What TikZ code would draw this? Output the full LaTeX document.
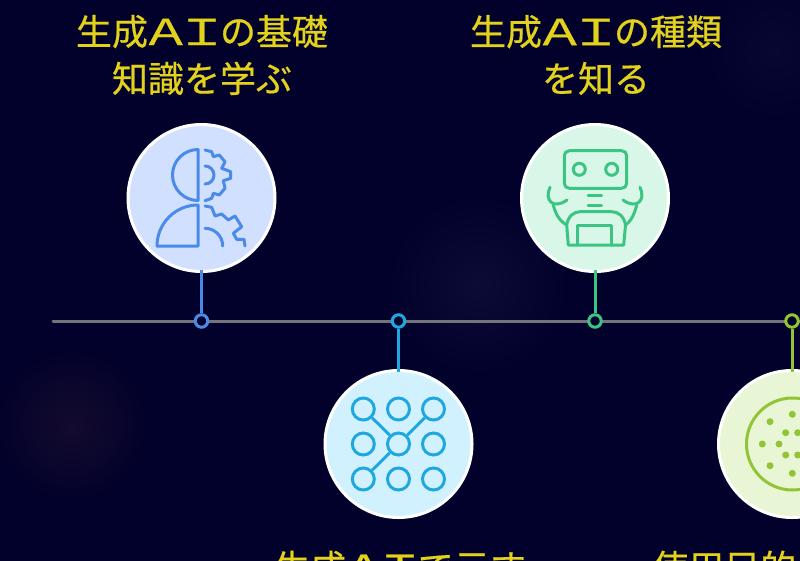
\documentclass[tikz,border=0pt]{standalone}
\usepackage{fontspec}
\setmainfont{Noto Sans CJK JP}[FakeBold=0.5]
\newcommand{\aiWord}{\makebox[1em]{\scalebox{1.4}[1]{Ａ}}\makebox[1em]{\scalebox{1.5}[1]{Ｉ}}}
\definecolor{nightBg}{HTML}{02012B}
\definecolor{glowRed}{HTML}{140B2E}
\definecolor{glowBlue}{HTML}{0B0B36}
\definecolor{labelGold}{HTML}{E3D21C}
\definecolor{lineGrey}{HTML}{74747E}
\definecolor{stepBlue}{HTML}{4A8AE8}
\definecolor{fillBlue}{HTML}{D2E0FF}
\definecolor{stepCyan}{HTML}{1FA8DF}
\definecolor{fillCyan}{HTML}{D2F1FF}
\definecolor{stepGreen}{HTML}{3CC483}
\definecolor{fillGreen}{HTML}{D8F7E8}
\definecolor{stepLime}{HTML}{92C436}
\definecolor{fillLime}{HTML}{E8F6D6}
\tikzstyle{bigCircle}=[draw=white,circle,line width=3pt,minimum size=147pt,inner sep=0pt]
\tikzstyle{dotNode}=[draw,circle,fill=nightBg,line width=3pt,minimum size=12.5pt,inner sep=0pt]
\tikzstyle{stemLine}=[line width=3pt,shorten <=-3pt]
\tikzstyle{iconLine}=[line width=3pt,line cap=round,line join=round]
\tikzstyle{stepLabel}=[text=labelGold,font=\fontsize{36pt}{47pt}\selectfont,align=center,inner sep=0pt]
\tikzstyle{ringNode}=[draw=stepCyan,circle,line width=3pt,minimum size=22pt,inner sep=0pt]
\tikzstyle{ringLink}=[draw=stepCyan,line width=3pt]
\tikzstyle{glowSpot}=[shading=radial,outer color=nightBg]
\begin{document}
\begin{tikzpicture}[x=1pt,y=-1pt]
		\useasboundingbox (0,0) rectangle (800,560);
		\clip (0,0) rectangle (800,560);
		\fill[nightBg] (-2,-2) rectangle (802,562);
		\shade[glowSpot,inner color=glowRed] (72,425) circle (75);
		\shade[glowSpot,inner color=glowBlue] (478,285) circle (90);
		\shade[glowSpot,inner color=glowBlue!60!nightBg] (775,50) circle (70);

		\coordinate (lineStart) at (53,321);
		\coordinate (lineEnd) at (802,321);
		\draw[lineGrey,line width=3pt,line cap=round] (lineStart) -- (lineEnd);

		\node[bigCircle,fill=fillBlue] (basics) at (201.5,198) {};
		\node[bigCircle,fill=fillCyan] (neural) at (398.5,444) {};
		\node[bigCircle,fill=fillGreen] (robot) at (595,198) {};
		\node[bigCircle,fill=fillLime] (usage) at (792,444) {};

		\node[dotNode,draw=stepBlue] (dot1) at (201.5,321) {};
		\node[dotNode,draw=stepCyan] (dot2) at (398.5,321) {};
		\node[dotNode,draw=stepGreen] (dot3) at (595,321) {};
		\node[dotNode,draw=stepLime] (dot4) at (792,321) {};

		\draw[stemLine,stepBlue] (basics) -- (dot1);
		\draw[stemLine,stepCyan] (neural) -- (dot2);
		\draw[stemLine,stepGreen] (robot) -- (dot3);
		\draw[stemLine,stepLime] (usage) -- (dot4);

		\node[stepLabel] (label1) at (202,55) {生成\aiWord の基礎\\知識を学ぶ};
		\node[stepLabel] (label3) at (596,55) {生成\aiWord の種類\\を知る};
		\node[stepLabel,anchor=base] (label2) at (400,581) {生成\aiWord で示す};
		\node[stepLabel,anchor=base west] (label4) at (652,581) {使用目的};

		% half head and gear
		\begin{scope}[iconLine,stepBlue]
		\draw (198,200.5) -- (198,149.5) arc (-90:-270:25.5) -- cycle;
		\draw (198,205.5) -- (198,246) -- (157,246) arc (180:270:41) -- cycle;
		\draw (205,150) -- (211.7,151.7) -- (213.3,156.7) -- (219.3,155) -- (225,161.7) -- (221.7,168.3) -- (230.7,171.7) -- (230.7,178.3) -- (223.3,180.7) -- (225,188.3) -- (219.3,195) -- (213.3,193.3) -- (211.7,198.3) -- (205,200.7);
		\draw (205,166) arc (-90:90:9);
		\draw (205,206) -- (211.7,207.3) -- (215,216) -- (221.7,214) -- (228.3,220) -- (235,216) -- (241.7,226.7) -- (233.3,233.3) -- (236.7,239.3) -- (244,239.3) -- (245,246);
		\draw (205,228.3) arc (-90:0:17.7);
		\end{scope}

		% grid of rings
		\foreach \i/\px/\py in {1/363.3/409,2/398.5/409,3/433.5/409,4/363.3/444,5/398.5/444,6/433.5/444,7/363.3/479,8/398.5/479,9/433.5/479}
		\node[ringNode] (ring\i) at (\px,\py) {};
		\draw[ringLink] (ring1) -- (ring5);
		\draw[ringLink] (ring3) -- (ring5);
		\draw[ringLink] (ring7) -- (ring5);

		% robot
		\begin{scope}[iconLine,stepGreen]
		\draw[rounded corners=5pt] (564.3,150.7) rectangle (626.7,188.3);
		\draw (579.3,169.3) circle (6);
		\draw (611.7,169.3) circle (6);
		\draw (588,195.7) -- (601.7,195.7);
		\draw (588,205) -- (601.7,205);
		\draw (568.3,245) -- (566.7,225) .. controls (568,216) and (574,211.7) .. (580,211.7) -- (611.7,211.7) .. controls (618,211.7) and (624,216) .. (625.5,225) -- (623.7,245) -- cycle;
		\draw (577.7,245) -- (577.7,225) -- (611.7,225) -- (611.7,245);
		\draw (550,187.3) .. controls (544,200) and (553,210) .. (567,200);
		\draw (640,187.3) .. controls (646,200) and (637,210) .. (623,200);
		\draw (553.3,205) .. controls (556,216) and (561,222) .. (566.7,225);
		\draw (636.7,205) .. controls (634,216) and (630,222) .. (625.5,225);
		\end{scope}

		% circle with dots
		\draw[iconLine,stepLime] (792.5,444) circle (46);
		\foreach \px/\py in {792.3/414.3,770/421.7,785.7/432.7,797.7/432.7,762.3/444,779/444,785.7/455,797.7/455,770/465.7,792.3/473.3}
		\fill[stepLime] (\px,\py) circle (3.5);
		\end{tikzpicture}
\end{document}
